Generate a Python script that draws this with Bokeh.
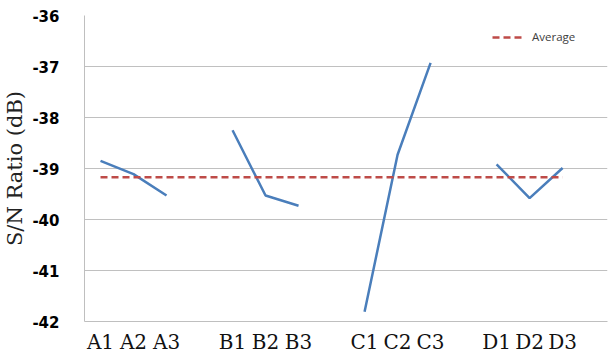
from bokeh.plotting import figure
from bokeh.models import Range1d, FixedTicker, Legend, LegendItem
from bokeh.embed import file_html
from bokeh.resources import INLINE

# Data
factors = ["A", "B", "C", "D"]
levels = ["1", "2", "3"]
a_vals = [-38.85, -39.11, -39.53]
b_vals = [-38.25, -39.53, -39.73]
c_vals = [-41.81, -38.73, -36.93]
d_vals = [-38.92, -39.58, -38.99]
average = -39.17
y_ticks = [-42, -41, -40, -39, -38, -37, -36]
y_tick_labels = ["-42", "-41", "-40", "-39", "-38", "-37", "-36"]

series = [a_vals, b_vals, c_vals, d_vals]
group_step = 4  # three levels + one empty slot

p = figure(width=608, height=356, output_backend="svg", toolbar_location=None,
           x_range=Range1d(-0.485, 15.36), y_range=Range1d(-42, -36),
           min_border_left=84, min_border_right=1, min_border_top=15, min_border_bottom=34)
p.outline_line_color = None
p.background_fill_color = "white"

tick_pos = []
tick_lab = {}
for gi, (f, vals) in enumerate(zip(factors, series)):
    xs = [gi * group_step + i for i in range(len(vals))]
    for x, lv in zip(xs, levels):
        tick_pos.append(x)
        tick_lab[x] = f + lv
    p.line(xs, vals, line_color="#4A7EBB", line_width=2.5)

avg_x = [0, (len(factors) - 1) * group_step + 2]
avg_r = p.line(avg_x, [average, average], line_color="#BE4B48", line_width=2.5,
               line_dash="7 4")

# X axis
xa = p.xaxis[0]
xa.ticker = FixedTicker(ticks=tick_pos)
xa.major_label_overrides = {x: t for x, t in tick_lab.items()}
xa.major_label_text_font = "DejaVu Serif"
xa.major_label_text_font_size = "20px"
xa.major_label_text_color = "#111111"
xa.major_tick_line_color = None
xa.minor_tick_line_color = None
xa.axis_line_color = "#BFBFBF"
xa.major_label_standoff = 2

# Y axis
ya = p.yaxis[0]
ya.ticker = FixedTicker(ticks=y_ticks)
ya.major_label_overrides = {t: s for t, s in zip(y_ticks, y_tick_labels)}
ya.major_label_text_font = "DejaVu Sans"
ya.major_label_text_font_style = "bold"
ya.major_label_text_font_size = "15px"
ya.major_label_text_color = "#000000"
ya.major_tick_line_color = None
ya.minor_tick_line_color = None
ya.axis_line_color = "#BFBFBF"
ya.major_label_standoff = 19
ya.axis_label = "S/N Ratio (dB)"
ya.axis_label_text_font = "DejaVu Serif"
ya.axis_label_text_font_style = "normal"
ya.axis_label_text_font_size = "21px"
ya.axis_label_text_color = "#222222"
ya.axis_label_standoff = 2

p.xgrid.grid_line_color = None
p.ygrid.grid_line_color = "#C0C0C0"
p.ygrid.grid_line_width = 1.2
p.ygrid.ticker = FixedTicker(ticks=y_ticks)

legend = Legend(items=[LegendItem(label="Average", renderers=[avg_r])],
                location=(408, 277), border_line_color=None, background_fill_alpha=0,
                padding=0, margin=0, glyph_width=33, glyph_height=14, label_standoff=7,
                label_text_font="Open Sans", label_text_font_size="11.5px",
                label_text_color="#404040")
p.add_layout(legend, "center")

open("out.html", "w").write(file_html(p, INLINE))
